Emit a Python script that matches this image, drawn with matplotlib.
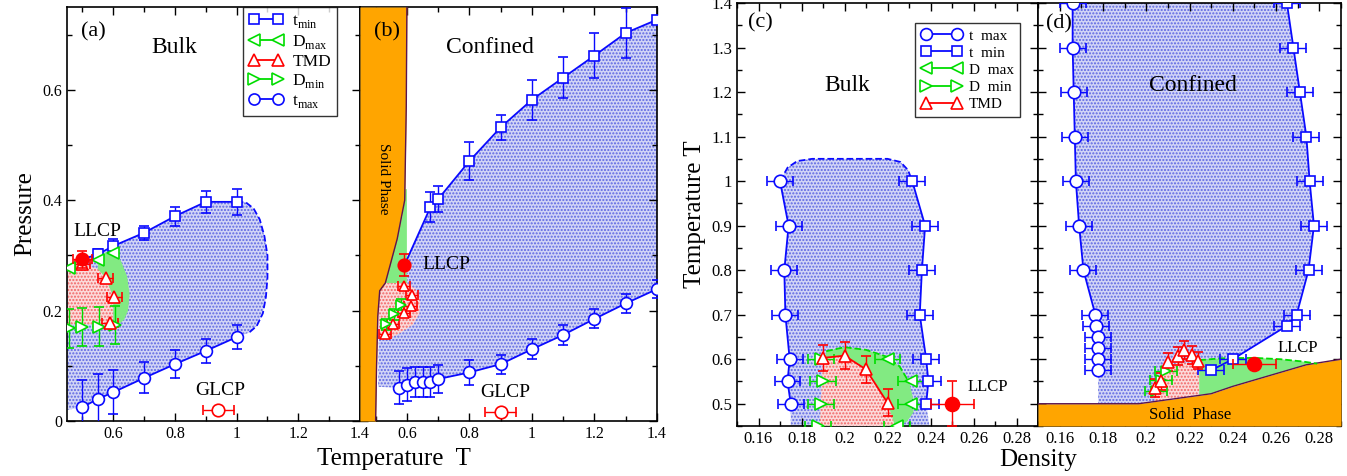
import numpy as np
import matplotlib
matplotlib.use("Agg")
import matplotlib.pyplot as plt
from matplotlib.lines import Line2D
from matplotlib.ticker import MultipleLocator, FuncFormatter

plt.rcParams["font.family"] = ["Liberation Serif", "DejaVu Serif"]
plt.rcParams["hatch.linewidth"] = 1.0

# ---------------- panel (a): bulk, P-T plane ----------------
tmin_a_T = [0.55, 0.6, 0.7, 0.8, 0.9, 1.0]
tmin_a_P = [0.302, 0.317, 0.341, 0.371, 0.397, 0.397]
tmin_a_err = [0.01, 0.012, 0.013, 0.017, 0.02, 0.023]
tmax_a_T = [0.5, 0.55, 0.6, 0.7, 0.8, 0.9, 1.0]
tmax_a_P = [0.025, 0.040, 0.052, 0.078, 0.103, 0.127, 0.152]
tmax_a_err = [0.05, 0.045, 0.04, 0.028, 0.025, 0.022, 0.022]
dmax_a_T = [0.455, 0.55, 0.6]
dmax_a_P = [0.278, 0.292, 0.305]
tmd_a_T = [0.5, 0.575, 0.604, 0.59]
tmd_a_P = [0.285, 0.259, 0.225, 0.178]
dmin_a_T = [0.457, 0.5, 0.555, 0.605]
dmin_a_P = [0.168, 0.170, 0.171, 0.174]
llcp_a = ([0.5], [0.293])
glcp_a = ([0.94], [0.02])
dash_a_T = [1.0, 1.03, 1.055, 1.075, 1.09, 1.1, 1.1, 1.095, 1.085, 1.065, 1.04]
dash_a_P = [0.397, 0.396, 0.385, 0.365, 0.335, 0.30, 0.26, 0.225, 0.195, 0.172, 0.16]
edge_a_T = [0.45, 0.45]
edge_a_P = [0.28, 0.02]
red_a_T = [0.45, 0.5, 0.55, 0.575, 0.6, 0.6, 0.45]
red_a_P = [0.28, 0.285, 0.275, 0.26, 0.225, 0.175, 0.175]
green_a_T = [0.55, 0.6, 0.625, 0.645, 0.653, 0.648, 0.635, 0.61, 0.6, 0.6, 0.575, 0.55]
green_a_P = [0.30, 0.31, 0.29, 0.262, 0.23, 0.2, 0.183, 0.172, 0.175, 0.225, 0.26, 0.275]

# ---------------- panel (b): confined, P-T plane ----------------
solid_b_T = [0.50, 0.503, 0.507, 0.513, 0.531, 0.569, 0.593, 0.598, 0.60]
solid_b_P = [0.0, 0.1, 0.19, 0.236, 0.25, 0.33, 0.4, 0.57, 0.75]
tmin_b_T = [0.675, 0.7, 0.8, 0.9, 1.0, 1.1, 1.2, 1.3, 1.4]
tmin_b_P = [0.387, 0.402, 0.471, 0.532, 0.582, 0.622, 0.662, 0.703, 0.727]
tmin_b_err = [0.027, 0.023, 0.034, 0.023, 0.036, 0.037, 0.041, 0.046, 0.0]
tmax_b_T = [0.575, 0.6, 0.625, 0.65, 0.675, 0.7, 0.8, 0.9, 1.0, 1.1, 1.2, 1.3, 1.4]
tmax_b_P = [0.06, 0.066, 0.07, 0.07, 0.07, 0.076, 0.088, 0.103, 0.13, 0.156, 0.185, 0.213, 0.239]
tmax_b_err = [0.03, 0.03, 0.027, 0.027, 0.027, 0.025, 0.023, 0.017, 0.018, 0.018, 0.017, 0.017, 0.017]
tmd_b_T = [0.59, 0.617, 0.612, 0.59, 0.555, 0.53]
tmd_b_P = [0.244, 0.229, 0.208, 0.195, 0.175, 0.157]
dmin_b_T = [0.58, 0.558, 0.532]
dmin_b_P = [0.211, 0.193, 0.175]
llcp_b = ([0.592], [0.282])
glcp_b = ([0.9], [0.016])
edge_b_T = [0.6, 0.6, 0.53, 0.512, 0.508]
edge_b_P = [0.28, 0.25, 0.25, 0.235, 0.062]
red_b_T = [0.512, 0.531, 0.6, 0.625, 0.642, 0.64, 0.62, 0.58, 0.54, 0.51]
red_b_P = [0.235, 0.25, 0.25, 0.24, 0.22, 0.195, 0.175, 0.16, 0.148, 0.15]
green_b_T = [0.531, 0.545, 0.569, 0.585, 0.593, 0.595, 0.6, 0.6]
green_b_P = [0.25, 0.28, 0.33, 0.37, 0.4, 0.42, 0.42, 0.25]

# ---------------- panel (c): bulk, T-density plane ----------------
tmax_c_rho = [0.170, 0.174, 0.172, 0.1725, 0.1745, 0.1735, 0.175]
tmax_c_T = [1.0, 0.9, 0.8, 0.7, 0.6, 0.55, 0.5]
tmin_c_rho = [0.2315, 0.2375, 0.236, 0.235, 0.238, 0.239, 0.238]
tmin_c_T = [1.0, 0.9, 0.8, 0.7, 0.6, 0.55, 0.5]
dash_c_rho = [0.170, 0.1735, 0.178, 0.185, 0.22, 0.226, 0.2295, 0.2315]
dash_c_T = [1.0, 1.03, 1.045, 1.05, 1.05, 1.043, 1.025, 1.0]
dmax_c_rho = [0.22, 0.231, 0.231, 0.2245]
dmax_c_T = [0.6, 0.55, 0.5, 0.45]
dmin_c_rho = [0.189, 0.19, 0.189, 0.1875]
dmin_c_T = [0.6, 0.55, 0.5, 0.45]
tmd_c_rho = [0.19, 0.2, 0.21, 0.22]
tmd_c_T = [0.603, 0.608, 0.577, 0.502]
llcp_c = ([0.25], [0.5])
edge_c_rho = [0.2395, 0.175]
edge_c_T = [0.45, 0.45]
green_c_rho = [0.1885, 0.1915, 0.2, 0.21, 0.2194, 0.2256, 0.2302, 0.2325, 0.232, 0.229, 0.225]
green_c_T = [0.45, 0.618, 0.627, 0.621, 0.606, 0.584, 0.547, 0.5, 0.48, 0.46, 0.45]
red_c_rho = [0.1885, 0.19, 0.2, 0.21, 0.22, 0.2235]
red_c_T = [0.45, 0.603, 0.608, 0.577, 0.502, 0.45]

# ---------------- panel (d): confined, T-density plane ----------------
tmax_d_rho = [0.166, 0.166, 0.1665, 0.167, 0.1675, 0.169, 0.171, 0.1765, 0.177, 0.1778, 0.1778, 0.1778, 0.1778]
tmax_d_T = [1.4, 1.3, 1.2, 1.1, 1.0, 0.9, 0.8, 0.7, 0.675, 0.65, 0.625, 0.6, 0.575]
tmin_d_rho = [0.265, 0.268, 0.271, 0.274, 0.2755, 0.2775, 0.275, 0.2695, 0.265, 0.24, 0.23]
tmin_d_T = [1.4, 1.3, 1.2, 1.1, 1.0, 0.9, 0.8, 0.7, 0.675, 0.6, 0.575]
tmd_d_rho = [0.204, 0.207, 0.21, 0.2145, 0.2175, 0.221, 0.224]
tmd_d_T = [0.535, 0.55, 0.593, 0.608, 0.62, 0.61, 0.597]
dmin_d_rho = [0.2045, 0.2068, 0.209]
dmin_d_T = [0.528, 0.554, 0.573]
llcp_d = ([0.25], [0.589])
solid_d_rho = [0.15, 0.1965, 0.23, 0.24, 0.274, 0.29]
solid_d_T = [0.5, 0.5, 0.5225, 0.539, 0.5875, 0.6]
edge_d_rho = [0.1778, 0.1965, 0.2245, 0.2245]
edge_d_T = [0.5, 0.5, 0.52, 0.575]
red_d_rho = [0.204, 0.204, 0.207, 0.21, 0.215, 0.2245, 0.2245]
red_d_T = [0.506, 0.535, 0.56, 0.585, 0.592, 0.592, 0.52]
green_d_rho = [0.2245, 0.2245, 0.235, 0.25, 0.262, 0.272, 0.279, 0.274, 0.24, 0.23]
green_d_T = [0.52, 0.598, 0.602, 0.603, 0.6, 0.595, 0.59, 0.5875, 0.539, 0.5225]

BLUE = "#0a0aff"
GREEN = "#00dd00"
RED = "#ff0000"
ORANGE = "#ffa500"
SOLID_EDGE = "#5a1450"


def stipple(ax, x, y, face, dots, z=1):
    ax.fill(x, y, facecolor=face, edgecolor=dots, hatch=".....", lw=0, zorder=z)


def solid_fill(ax, x, y, color, z=2):
    ax.fill(x, y, facecolor=color, edgecolor="none", lw=0, zorder=z)


def series(ax, x, y, color, marker, ms, xerr=None, yerr=None, line=True, mfc="white", z=5):
    ax.errorbar(x, y, xerr=xerr, yerr=yerr, fmt=marker + ("-" if line else ""),
                color=color, mfc=mfc, mec=color, ms=ms, mew=1.2, lw=1.3,
                elinewidth=1.0, capsize=3.5, capthick=1.0, zorder=z)


def style_axes(ax, xmaj, xmin, ymaj, ymin, lbl=12):
    ax.xaxis.set_major_locator(MultipleLocator(xmaj))
    ax.xaxis.set_minor_locator(MultipleLocator(xmin))
    ax.yaxis.set_major_locator(MultipleLocator(ymaj))
    ax.yaxis.set_minor_locator(MultipleLocator(ymin))
    fmt = FuncFormatter(lambda v, p: "%g" % round(v, 3))
    ax.xaxis.set_major_formatter(fmt)
    ax.yaxis.set_major_formatter(fmt)
    ax.tick_params(which="both", direction="in", top=True, right=True, labelsize=lbl)
    ax.tick_params(which="major", length=6, width=1)
    ax.tick_params(which="minor", length=3.5, width=1)
    for s in ax.spines.values():
        s.set_linewidth(1.2)


W, H = 1347, 476
fig = plt.figure(figsize=(W / 100, H / 100), dpi=100)
ax_a = fig.add_axes([67 / W, 1 - 421 / H, 293 / W, 414 / H])
ax_b = fig.add_axes([360 / W, 1 - 421 / H, 297 / W, 414 / H])
ax_c = fig.add_axes([737 / W, 1 - 426 / H, 301 / W, 423 / H])
ax_d = fig.add_axes([1038 / W, 1 - 426 / H, 303 / W, 423 / H])

BLUE_FACE, BLUE_DOTS = "#d2d5f6", "#5c66e2"
RED_FACE, RED_DOTS = "#fcdada", "#f06464"
GREEN_FACE = "#82ea82"

# ---------- (a) ----------
ax = ax_a
bx = tmax_a_T + dash_a_T[::-1] + tmin_a_T[::-1] + llcp_a[0] + edge_a_T
by = tmax_a_P + dash_a_P[::-1] + tmin_a_P[::-1] + llcp_a[1] + edge_a_P
stipple(ax, bx, by, BLUE_FACE, BLUE_DOTS, 1)
stipple(ax, red_a_T, red_a_P, RED_FACE, RED_DOTS, 2)
solid_fill(ax, green_a_T, green_a_P, GREEN_FACE, 3)
ax.plot(dash_a_T, dash_a_P, "--", color=BLUE, lw=1.3, zorder=4)
ax.plot(llcp_a[0] + tmin_a_T[:1], llcp_a[1] + tmin_a_P[:1], "-", color=BLUE, lw=1.3, zorder=4)
series(ax, tmin_a_T, tmin_a_P, BLUE, "s", 7.5, yerr=tmin_a_err)
series(ax, tmax_a_T, tmax_a_P, BLUE, "o", 8.5, yerr=tmax_a_err)
series(ax, dmin_a_T, dmin_a_P, GREEN, ">", 8.5, yerr=0.035, line=False)
series(ax, tmd_a_T, tmd_a_P, RED, "^", 8, xerr=0.025, line=False)
series(ax, dmax_a_T, dmax_a_P, GREEN, "<", 8.5, line=False)
series(ax, llcp_a[0], llcp_a[1], RED, "o", 9, xerr=0.03, yerr=0.015, line=False, mfc=RED, z=6)
series(ax, glcp_a[0], glcp_a[1], RED, "o", 9, xerr=0.05, line=False)
ax.set_xlim(0.45, 1.4)
ax.set_ylim(0, 0.75)
style_axes(ax, 0.2, 0.1, 0.2, 0.1, 11.5)
ax.set_ylabel("Pressure", fontsize=18)
ax.text(0.089, 0.94, "(a)", transform=ax.transAxes, fontsize=16, ha="center", va="center")
ax.text(0.365, 0.903, "Bulk", transform=ax.transAxes, fontsize=17, ha="center", va="center")
ax.text(0.548, 0.344, "LLCP", fontsize=14, ha="center", va="center", zorder=10)
ax.text(0.948, 0.056, "GLCP", fontsize=14, ha="center", va="center", zorder=10)
leg_items_a = [("t$_\\mathregular{min}$", BLUE, "s", 7), ("D$_\\mathregular{max}$", GREEN, "<", 8),
               ("TMD", RED, "^", 8), ("D$_\\mathregular{min}$", GREEN, ">", 8),
               ("t$_\\mathregular{max}$", BLUE, "o", 8)]
handles = [Line2D([], [], color=c, marker=m, mfc="white", mec=c, ms=s, lw=1.3, mew=1.2)
           for _, c, m, s in leg_items_a]
leg = ax.legend(handles, [l for l, _, _, _ in leg_items_a], loc="upper right",
                bbox_to_anchor=(0.922, 1.0), borderaxespad=0, numpoints=2, fontsize=12.5,
                frameon=True, fancybox=False, edgecolor="black", handlelength=2.0,
                handletextpad=0.5, labelspacing=0.15, borderpad=0.35)
leg.get_frame().set_linewidth(1.0)
leg.set_zorder(20)

# ---------- (b) ----------
ax = ax_b
bx = tmax_b_T + tmin_b_T[::-1] + llcp_b[0] + edge_b_T
by = tmax_b_P + tmin_b_P[::-1] + llcp_b[1] + edge_b_P
stipple(ax, bx, by, BLUE_FACE, BLUE_DOTS, 1)
stipple(ax, red_b_T, red_b_P, RED_FACE, RED_DOTS, 2)
solid_fill(ax, green_b_T, green_b_P, GREEN_FACE, 3)
ax.fill_betweenx(solid_b_P, 0.45, solid_b_T, color=ORANGE, lw=0, zorder=3)
ax.plot(solid_b_T, solid_b_P, "-", color=SOLID_EDGE, lw=1.0, zorder=4)
ax.plot(llcp_b[0] + tmin_b_T[:1], llcp_b[1] + tmin_b_P[:1], "-", color=BLUE, lw=1.3, zorder=4)
series(ax, tmin_b_T, tmin_b_P, BLUE, "s", 7.5, yerr=tmin_b_err)
series(ax, tmax_b_T, tmax_b_P, BLUE, "o", 8.5, yerr=tmax_b_err)
series(ax, tmd_b_T, tmd_b_P, RED, "^", 7.5, xerr=0.02, line=False)
series(ax, dmin_b_T, dmin_b_P, GREEN, ">", 7.5, yerr=0.01, line=False)
series(ax, llcp_b[0], llcp_b[1], RED, "o", 9, yerr=0.02, line=False, mfc=RED, z=6)
series(ax, glcp_b[0], glcp_b[1], RED, "o", 9, xerr=0.05, line=False)
ax.set_xlim(0.45, 1.4)
ax.set_ylim(0, 0.75)
style_axes(ax, 0.2, 0.1, 0.2, 0.1, 11.5)
ax.tick_params(labelleft=False)
ax.text(0.09, 0.94, "(b)", transform=ax.transAxes, fontsize=16, ha="center", va="center", zorder=10)
ax.text(0.438, 0.903, "Confined", transform=ax.transAxes, fontsize=17, ha="center", va="center")
ax.text(0.726, 0.284, "LLCP", fontsize=14, ha="center", va="center", zorder=10)
ax.text(0.916, 0.051, "GLCP", fontsize=14, ha="center", va="center", zorder=10)
ax.text(0.526, 0.438, "Solid Phase", fontsize=11, rotation=-90, ha="center", va="center", zorder=10)

# ---------- (c) ----------
ax = ax_c
bx = dash_c_rho + tmin_c_rho + edge_c_rho + tmax_c_rho[::-1]
by = dash_c_T + tmin_c_T + edge_c_T + tmax_c_T[::-1]
stipple(ax, bx, by, BLUE_FACE, BLUE_DOTS, 1)
solid_fill(ax, green_c_rho, green_c_T, GREEN_FACE, 2)
stipple(ax, red_c_rho, red_c_T, RED_FACE, RED_DOTS, 3)
ax.plot(dash_c_rho, dash_c_T, "--", color=BLUE, lw=1.3, zorder=4)
ax.plot(green_c_rho[1:7], green_c_T[1:7], "--", color=GREEN, lw=1.3, zorder=4)
series(ax, tmax_c_rho, tmax_c_T, BLUE, "o", 9, xerr=0.006)
series(ax, tmin_c_rho, tmin_c_T, BLUE, "s", 7.5, xerr=0.006)
series(ax, dmax_c_rho, dmax_c_T, GREEN, "<", 8.5, xerr=0.006, line=False)
series(ax, dmin_c_rho, dmin_c_T, GREEN, ">", 8.5, xerr=0.006, line=False)
series(ax, tmd_c_rho, tmd_c_T, RED, "^", 8.5, yerr=0.03)
series(ax, llcp_c[0], llcp_c[1], RED, "o", 10, xerr=0.01, yerr=0.05, line=False, mfc=RED, z=6)
ax.set_xlim(0.15, 0.29)
ax.set_ylim(0.45, 1.4)
style_axes(ax, 0.02, 0.01, 0.1, 0.05, 12)
ax.set_ylabel("Temperature T", fontsize=18)
ax.text(0.076, 0.953, "(c)", transform=ax.transAxes, fontsize=16, ha="center", va="center")
ax.text(0.368, 0.806, "Bulk", transform=ax.transAxes, fontsize=17, ha="center", va="center")
ax.text(0.2665, 0.538, "LLCP", fontsize=12, ha="center", va="center", zorder=10)
leg_items_c = [("t  max", BLUE, "o", 8.5), ("t  min", BLUE, "s", 7.5), ("D  max", GREEN, "<", 8.5),
               ("D  min", GREEN, ">", 8.5), ("TMD", RED, "^", 8.5)]
handles = [Line2D([], [], color=c, marker=m, mfc="white", mec=c, ms=s, lw=1.3, mew=1.2)
           for _, c, m, s in leg_items_c]
leg = ax.legend(handles, [l for l, _, _, _ in leg_items_c], loc="upper right",
                bbox_to_anchor=(0.94, 0.953), borderaxespad=0, numpoints=2, fontsize=11,
                frameon=True, fancybox=False, edgecolor="black", handlelength=2.6,
                handletextpad=0.5, labelspacing=0.22, borderpad=0.4)
leg.get_frame().set_linewidth(1.0)
leg.set_zorder(20)

# ---------- (d) ----------
ax = ax_d
bx = tmax_d_rho + edge_d_rho + tmin_d_rho[::-1]
by = tmax_d_T + edge_d_T + tmin_d_T[::-1]
stipple(ax, bx, by, BLUE_FACE, BLUE_DOTS, 1)
stipple(ax, red_d_rho, red_d_T, RED_FACE, RED_DOTS, 2)
solid_fill(ax, green_d_rho, green_d_T, GREEN_FACE, 2)
ax.fill_between(solid_d_rho, 0.45, solid_d_T, color=ORANGE, lw=0, zorder=3)
ax.plot(solid_d_rho, solid_d_T, "-", color=SOLID_EDGE, lw=1.0, zorder=4)
ax.plot(green_d_rho[1:7], green_d_T[1:7], "--", color=GREEN, lw=1.3, zorder=4)
series(ax, tmax_d_rho, tmax_d_T, BLUE, "o", 9, xerr=0.006)
series(ax, tmin_d_rho, tmin_d_T, BLUE, "s", 7.5, xerr=0.006)
series(ax, dmin_d_rho, dmin_d_T, GREEN, ">", 7.5, xerr=0.005, line=False)
series(ax, tmd_d_rho, tmd_d_T, RED, "^", 8, yerr=0.02, line=False)
series(ax, llcp_d[0], llcp_d[1], RED, "o", 10, xerr=0.01, yerr=0.01, line=False, mfc=RED, z=6)
ax.set_xlim(0.15, 0.29)
ax.set_ylim(0.45, 1.4)
style_axes(ax, 0.02, 0.01, 0.1, 0.05, 12)
ax.tick_params(labelleft=False)
ax.text(0.069, 0.95, "(d)", transform=ax.transAxes, fontsize=16, ha="center", va="center", zorder=10)
ax.text(0.512, 0.806, "Confined", transform=ax.transAxes, fontsize=17, ha="center", va="center")
ax.text(0.2698, 0.626, "LLCP", fontsize=12, ha="center", va="center", zorder=10)
ax.text(0.2205, 0.475, "Solid  Phase", fontsize=12, ha="center", va="center", zorder=10)

fig.text(394 / W, 1 - 459 / H, "Temperature  T", fontsize=18, ha="center", va="center")
fig.text(1038 / W, 1 - 460 / H, "Density", fontsize=18, ha="center", va="center")

fig.savefig("out.png", dpi=100)
